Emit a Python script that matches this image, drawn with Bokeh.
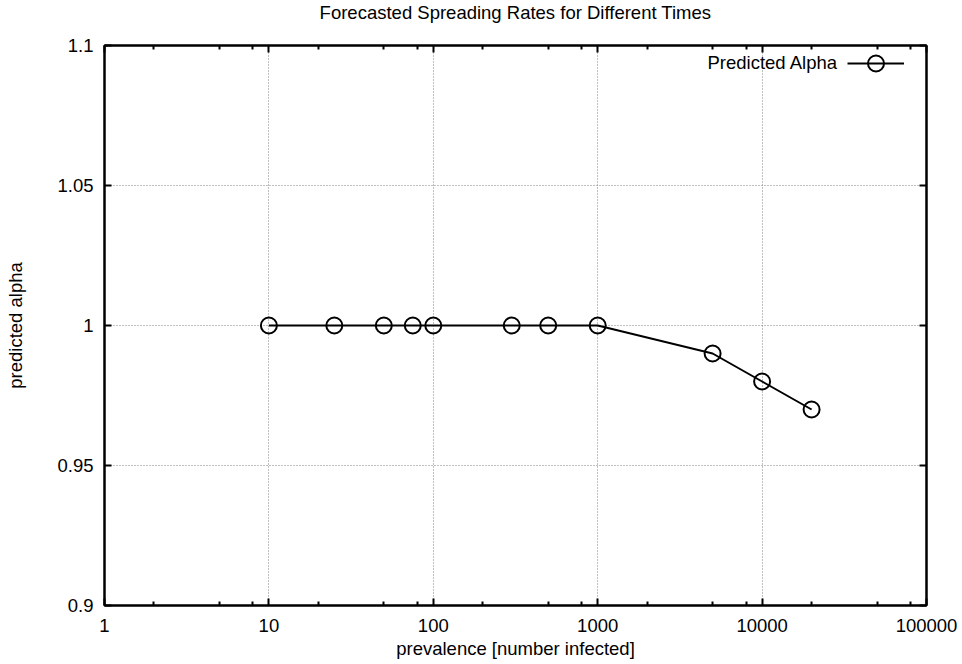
from bokeh.plotting import figure
from bokeh.models import (FixedTicker, LogAxis, LinearAxis, Legend, LegendItem, Label)
from bokeh.embed import file_html
from bokeh.resources import INLINE

# ---- data ----
prevalence = [10, 25, 50, 75, 100, 300, 500, 1000, 5000, 10000, 20000]
alpha = [1.0, 1.0, 1.0, 1.0, 1.0, 1.0, 1.0, 1.0, 0.99, 0.98, 0.97]

x_ticks = [1, 10, 100, 1000, 10000, 100000]
x_tick_labels = ["1", "10", "100", "1000", "10000", "100000"]
x_minor = [2, 5, 8, 20, 50, 80, 200, 500, 800, 2000, 5000, 8000, 20000, 50000, 80000]
y_ticks = [0.9, 0.95, 1.0, 1.05, 1.1]
y_tick_labels = ["0.9", "0.95", "1", "1.05", "1.1"]

title_text = "Forecasted Spreading Rates for Different Times"
x_label = "prevalence [number infected]"
y_label = "predicted alpha"
series_name = "Predicted Alpha"

FONT = "Liberation Sans"
FS = "18.5px"

p = figure(width=962, height=664, x_axis_type="log",
           x_range=(1, 100000), y_range=(0.9, 1.1),
           output_backend="svg", toolbar_location=None,
           min_border_left=104, min_border_right=36,
           min_border_top=45, min_border_bottom=59)

bottom_ax = p.below[0]
left_ax = p.left[0]

# a trailing blank line lifts the title away from the frame, as in the reference
p.title.text = title_text + "\n"
p.title.align = "center"
p.title.vertical_align = "top"
p.title.text_font = FONT
p.title.text_font_size = FS
p.title.text_font_style = "normal"
p.title.text_color = "black"
p.title.standoff = 0

p.outline_line_color = "black"
p.outline_line_width = 2
p.background_fill_color = "white"
p.border_fill_color = "white"

xt = FixedTicker(ticks=x_ticks, minor_ticks=x_minor)
yt = FixedTicker(ticks=y_ticks, minor_ticks=[])

bottom_ax.ticker = xt
bottom_ax.major_label_overrides = dict(zip(x_ticks, x_tick_labels))
bottom_ax.axis_label = x_label
bottom_ax.major_label_standoff = 13
bottom_ax.axis_label_standoff = 3

left_ax.ticker = yt
left_ax.major_label_overrides = dict(zip(y_ticks, y_tick_labels))
left_ax.axis_label = y_label
left_ax.major_label_standoff = 11
left_ax.axis_label_standoff = 28

top_ax = LogAxis(ticker=xt, major_label_overrides={t: "" for t in x_ticks},
                 major_label_standoff=0, major_label_text_font_size="1px")
right_ax = LinearAxis(ticker=yt, major_label_overrides={t: "" for t in y_ticks},
                      major_label_standoff=0, major_label_text_font_size="1px")
p.add_layout(top_ax, "above")
p.add_layout(right_ax, "right")

for ax in [bottom_ax, left_ax, top_ax, right_ax]:
    ax.axis_line_color = "black"
    ax.axis_line_width = 2
    ax.major_tick_in = 7
    ax.major_tick_out = 0
    ax.minor_tick_in = 4
    ax.minor_tick_out = 0
    ax.major_tick_line_width = 2
    ax.minor_tick_line_width = 2
    ax.major_tick_line_color = "black"
    ax.minor_tick_line_color = "black"
    ax.major_label_text_font = FONT
    ax.major_label_text_color = "black"
    ax.axis_label_text_font = FONT
    ax.axis_label_text_font_style = "normal"
    ax.axis_label_text_color = "black"
for ax in [bottom_ax, left_ax]:
    ax.major_label_text_font_size = FS
    ax.axis_label_text_font_size = FS

p.xgrid.ticker = FixedTicker(ticks=x_ticks)
p.ygrid.ticker = yt
for g in [p.xgrid[0], p.ygrid[0]]:
    g.grid_line_color = "#808080"
    g.grid_line_dash = "1 2"
    g.grid_line_width = 1

line_r = p.line(prevalence, alpha, line_color="black", line_width=2)
scat_r = p.scatter(prevalence, alpha, marker="circle", size=16,
                   fill_color=None, line_color="black", line_width=2)

legend = Legend(items=[LegendItem(label=" ", renderers=[line_r, scat_r])],
                location=(743, 522), glyph_width=57, glyph_height=40,
                label_width=0, label_standoff=0, label_height=40,
                label_text_font_size="1px", padding=0, margin=0, spacing=0,
                border_line_color=None, background_fill_alpha=0)
p.add_layout(legend)

# legend text (gnuplot puts the text left of the sample)
p.add_layout(Label(x=10 ** 4.462, y=1.0940, text=series_name,
                   text_align="right", text_baseline="middle",
                   text_font=FONT, text_font_size=FS, text_color="black"))

open("out.html", "w").write(file_html(p, INLINE))
